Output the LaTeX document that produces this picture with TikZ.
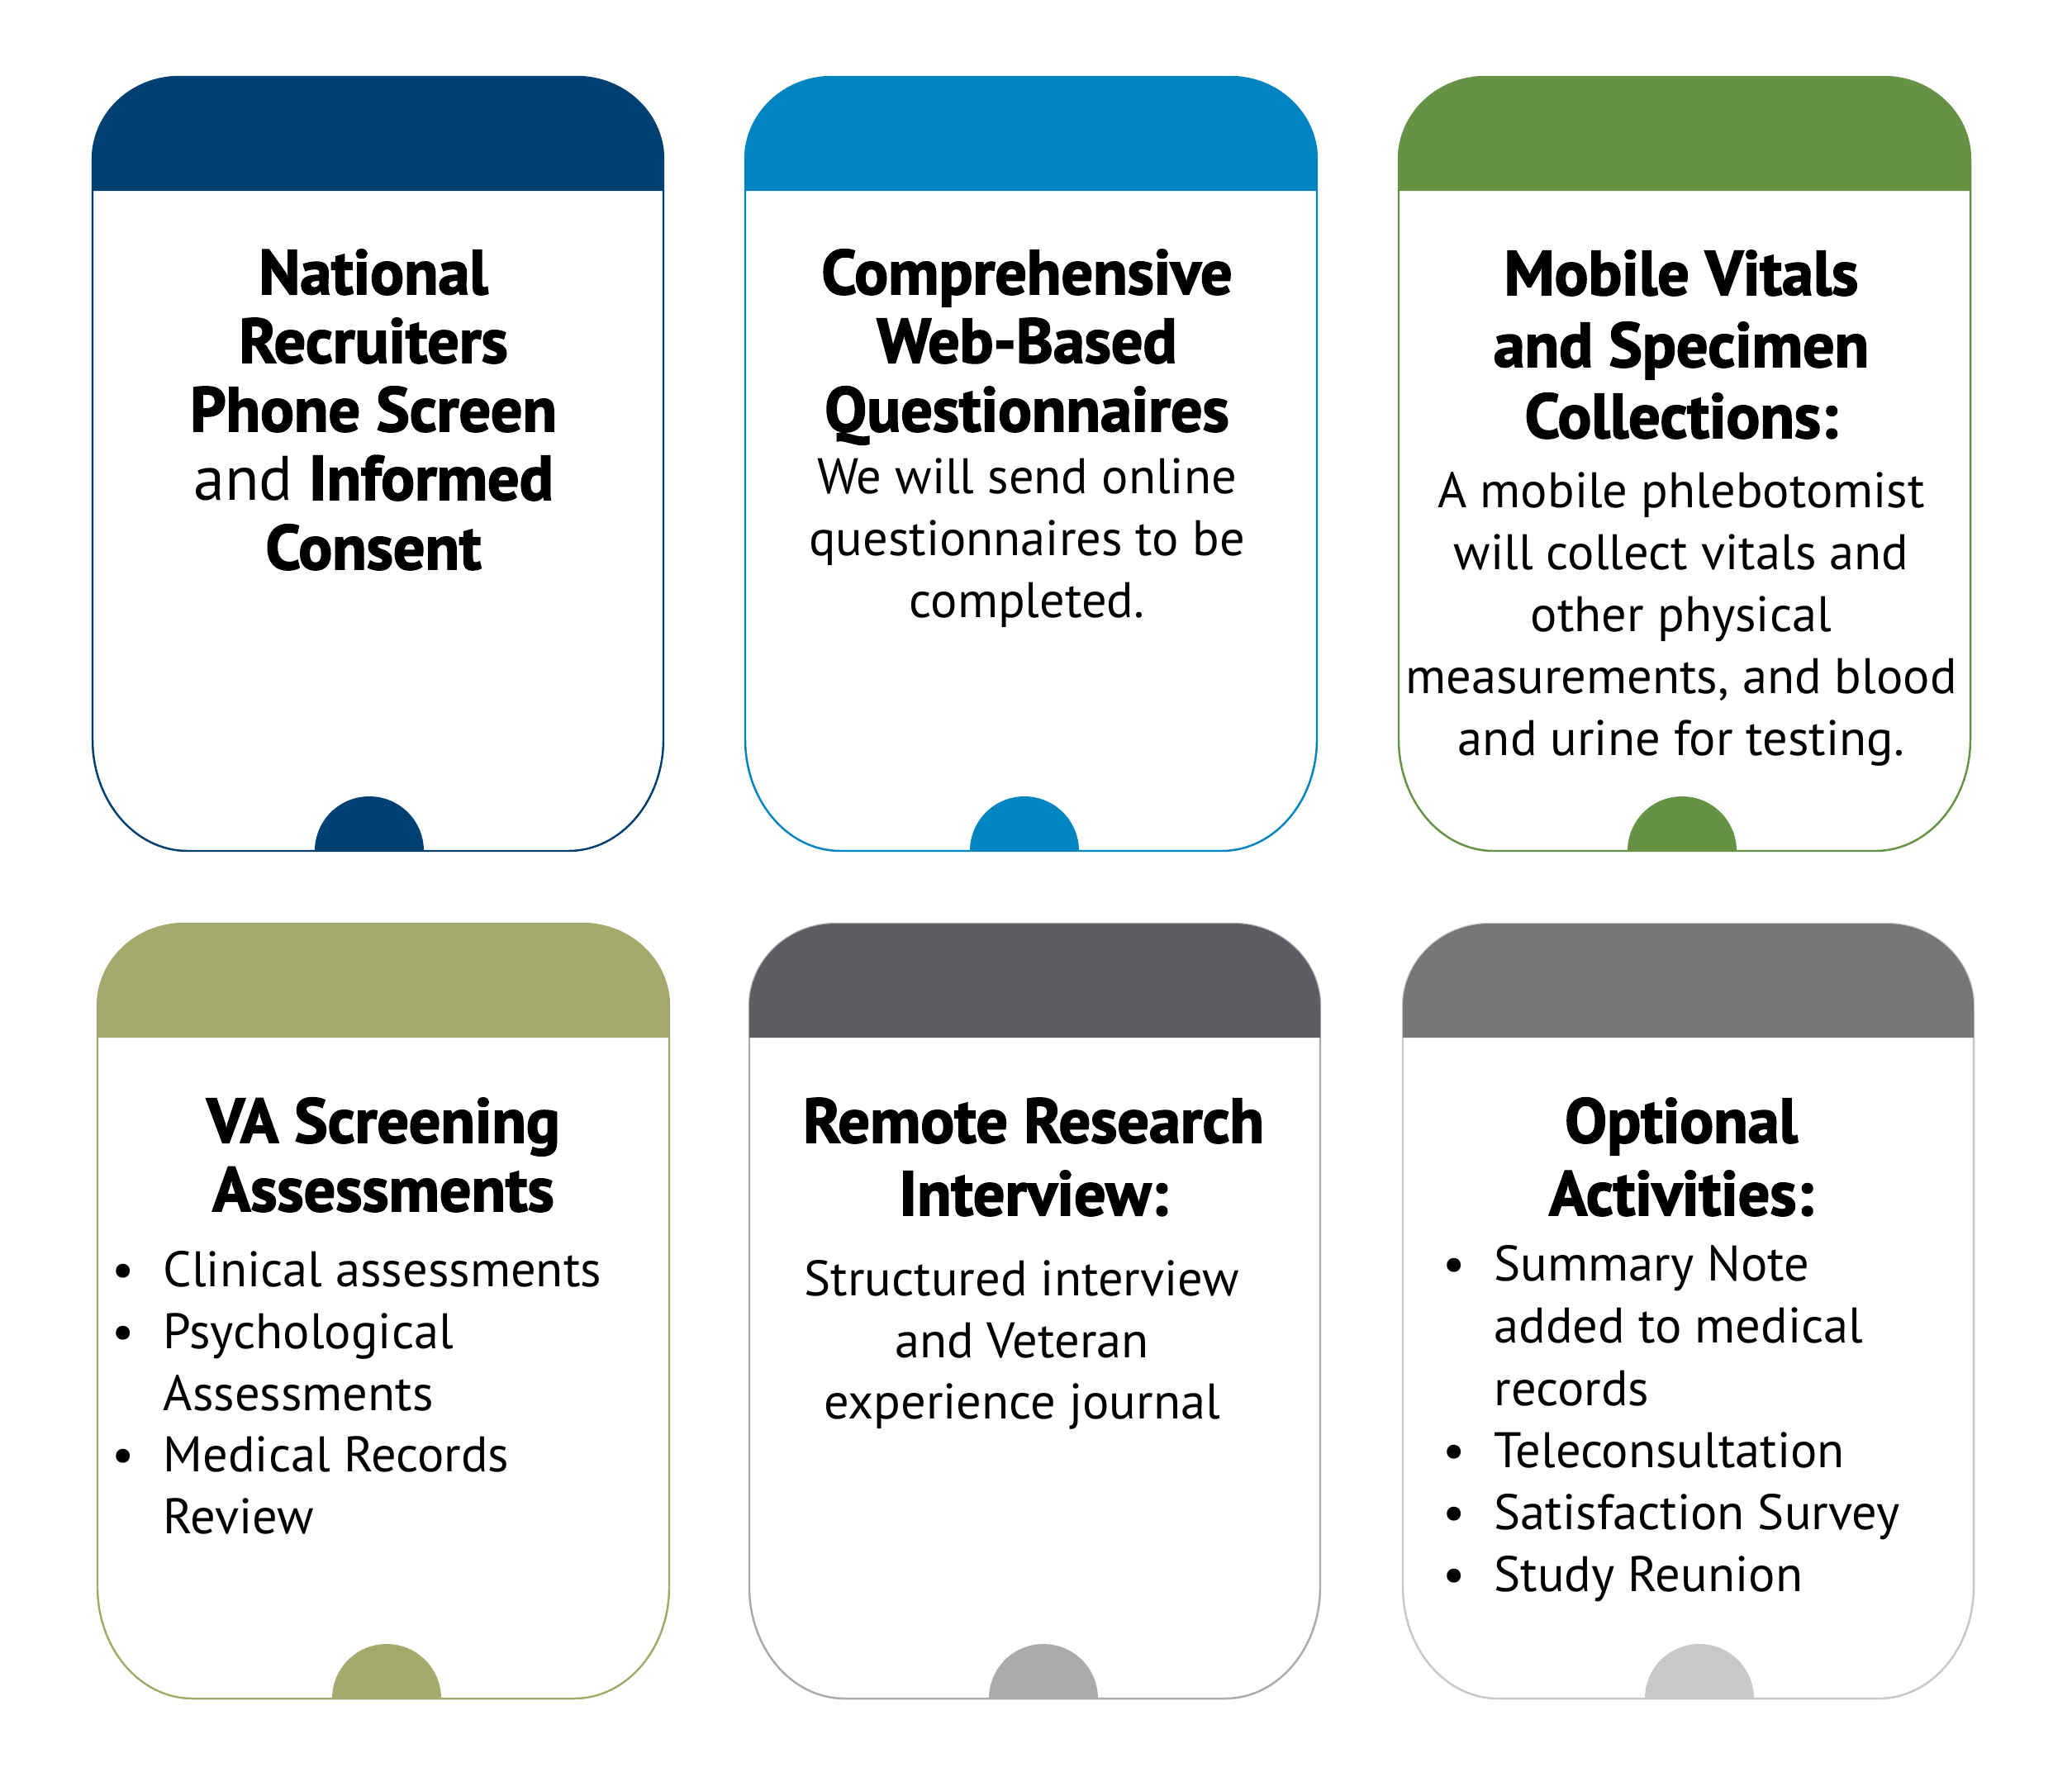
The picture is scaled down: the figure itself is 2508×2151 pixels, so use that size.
\documentclass[tikz,border=0pt]{standalone}
\usepackage{fontspec}
\newfontfamily\bodyfont{PT Sans}
\newfontfamily\titlefont[FakeBold=2.2]{PT Sans Bold}
\definecolor{cA}{HTML}{003F72}
\definecolor{cB}{HTML}{0284C0}
\definecolor{cC}{HTML}{659244}
\definecolor{cD}{HTML}{A3AA6C}
\definecolor{cEh}{HTML}{5D5E62}
\definecolor{cEl}{HTML}{ABABAB}
\definecolor{cFh}{HTML}{767779}
\definecolor{cFl}{HTML}{C8C8C8}
\newlength\calw
% #1 L, #2 T, #3 R, #4 B, #5 header bottom, #6 header colour, #7 line/dome colour, #8 dome x
\newcommand\cardshape[8]{%
  \draw[cardline, draw=#7, fill=white]
    (#1,{#2+100}) -- (#1,{#4-135})
    .. controls (#1,{#4-135+74.6}) and ({#1+115-63.5},#4) .. ({#1+115},#4)
    -- ({#3-115},#4)
    .. controls ({#3-115+63.5},#4) and (#3,{#4-135+74.6}) .. (#3,{#4-135})
    -- (#3,{#2+100})
    .. controls (#3,{#2+100-55.2}) and ({#3-105+58},#2) .. ({#3-105},#2)
    -- ({#1+105},#2)
    .. controls ({#1+105-58},#2) and (#1,{#2+100-55.2}) .. (#1,{#2+100})
    -- cycle;
  \fill[#6]
    (#1,#5) -- (#1,{#2+100})
    .. controls (#1,{#2+100-55.2}) and ({#1+105-58},#2) .. ({#1+105},#2)
    -- ({#3-105},#2)
    .. controls ({#3-105+58},#2) and (#3,{#2+100-55.2}) .. (#3,{#2+100})
    -- (#3,#5) -- cycle;
  \fill[#7]
    ({#8-66},#4) .. controls ({#8-66},{#4-36.5}) and ({#8-36.5},{#4-66}) .. (#8,{#4-66})
    .. controls ({#8+36.5},{#4-66}) and ({#8+66},{#4-36.5}) .. ({#8+66},#4) -- cycle;
}
\begin{document}
\settowidth\calw{\titlefont\fontsize{10}{12}\selectfont Comprehensive}%
\pgfmathsetmacro\tsize{0.99*10*142.83/\calw}%
\settowidth\calw{\bodyfont\fontsize{10}{12}\selectfont A mobile phlebotomist}%
\pgfmathsetmacro\bsize{0.985*10*170.15/\calw}%
\begin{tikzpicture}[x=0.01cm,y=-0.01cm]
\tikzset{
  cardline/.style={line width=0.7pt},
  title/.style={font=\titlefont\fontsize{\tsize}{\tsize}\selectfont, anchor=base, inner sep=0pt},
  body/.style={font=\bodyfont\fontsize{\bsize}{\bsize}\selectfont, anchor=base, inner sep=0pt},
  item/.style={body, anchor=base west},
  dot/.style={body, anchor=base}
}
\fill[white] (0,0) rectangle (2508,2151);
\useasboundingbox (0,0) rectangle (2508,2151);

% cards
\cardshape{112}{93}{803}{1030}{231}{cA}{cA}{447}
\cardshape{902}{93}{1594}{1030}{231}{cB}{cB}{1240}
\cardshape{1693}{93}{2385}{1030}{231}{cC}{cC}{2036}
\cardshape{118}{1118}{810}{2056}{1256}{cD}{cD}{468}
\cardshape{907}{1118}{1598}{2056}{1256}{cEh}{cEl}{1263}
\cardshape{1698}{1118}{2389}{2056}{1256}{cFh}{cFl}{2057}

% card 1
\node[title] (c1t1) at (452,356) {National};
\node[title] (c1t2) at (452,439) {Recruiters};
\node[title] (c1t3) at (452,522) {Phone Screen};
\node[title] (c1t4) at (452,605) {{\bodyfont and} Informed};
\node[title] (c1t5) at (452,689) {Consent};

% card 2
\node[title] (c2t1) at (1243,356) {Comprehensive};
\node[title] (c2t2) at (1243,439) {Web-Based};
\node[title] (c2t3) at (1243,522) {Questionnaires};
\node[body] (c2b1) at (1243,597) {We will send online};
\node[body] (c2b2) at (1243,672) {questionnaires to be};
\node[body] (c2b3) at (1243,747) {completed.};

% card 3
\node[title] (c3t1) at (2035,357) {Mobile Vitals};
\node[title] (c3t2) at (2035,444) {and Specimen};
\node[title] (c3t3) at (2035,530) {Collections:};
\node[body] (c3b1) at (2035,614) {A mobile phlebotomist};
\node[body] (c3b2) at (2035,689) {will collect vitals and};
\node[body] (c3b3) at (2035,764) {other physical};
\node[body] (c3b4) at (2035,839) {measurements, and blood};
\node[body] (c3b5) at (2035,914) {and urine for testing.};

% card 4
\node[title] (c4t1) at (464,1383) {VA Screening};
\node[title] (c4t2) at (464,1466) {Assessments};
\node[dot] (c4d1) at (149,1557) {•};
\node[item] (c4b1) at (197,1557) {Clinical assessments};
\node[dot] (c4d2) at (149,1632) {•};
\node[item] (c4b2) at (197,1632) {Psychological};
\node[item] (c4b3) at (197,1707) {Assessments};
\node[dot] (c4d3) at (149,1781) {•};
\node[item] (c4b4) at (197,1781) {Medical Records};
\node[item] (c4b5) at (197,1856) {Review};

% card 5
\node[title] (c5t1) at (1251,1383) {Remote Research};
\node[title] (c5t2) at (1251,1471) {Interview:};
\node[body] (c5b1) at (1237,1568) {Structured interview};
\node[body] (c5b2) at (1237,1643) {and Veteran};
\node[body] (c5b3) at (1237,1717) {experience journal};

% card 6
\node[title] (c6t1) at (2035,1383) {Optional};
\node[title] (c6t2) at (2035,1471) {Activities:};
\node[dot] (c6d1) at (1760,1550) {•};
\node[item] (c6b1) at (1808,1550) {Summary Note};
\node[item] (c6b2) at (1808,1625) {added to medical};
\node[item] (c6b3) at (1808,1701) {records};
\node[dot] (c6d2) at (1760,1776) {•};
\node[item] (c6b4) at (1808,1776) {Teleconsultation};
\node[dot] (c6d3) at (1760,1851) {•};
\node[item] (c6b5) at (1808,1851) {Satisfaction Survey};
\node[dot] (c6d4) at (1760,1926) {•};
\node[item] (c6b6) at (1808,1926) {Study Reunion};
\end{tikzpicture}
\end{document}
